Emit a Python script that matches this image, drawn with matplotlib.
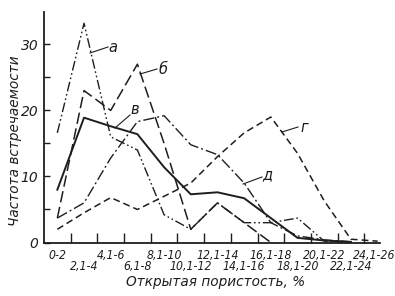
import numpy as np
import matplotlib
matplotlib.use("Agg")
import matplotlib.pyplot as plt

categories = ["0-2", "2,1-4", "4,1-6", "6,1-8", "8,1-10", "10,1-12", "12,1-14",
              "14,1-16", "16,1-18", "18,1-20", "20,1-22", "22,1-24", "24,1-26"]
nan = np.nan
series_a = [16.6, 33.2, 16.0, 14.0, 4.2, 2.0, 6.0, 3.0, 3.0, 3.7, 0.2, 0.1, nan]
series_b = [3.7, 23.0, 20.0, 27.0, 15.0, 2.0, 6.0, 3.0, 0.0, nan, nan, nan, nan]
series_v = [8.0, 18.9, 17.6, 16.4, 11.4, 7.3, 7.6, 6.7, 3.7, 0.7, 0.3, 0.1, nan]
series_g = [2.0, 4.5, 6.8, 5.0, 7.0, 9.0, 13.0, 16.6, 19.0, 13.5, 6.3, 0.5, 0.2]
series_d = [3.7, 6.0, 12.8, 18.3, 19.2, 14.8, 13.3, 9.0, 3.0, 1.0, 0.4, 0.1, nan]
series_names = ["а", "б", "в", "г", "д"]
y_ticks = [0, 10, 20, 30]

ink = "#1e1e1e"
plt.rcParams['font.family'] = ['DejaVu Sans']

fig = plt.figure(figsize=(3.95, 2.96), dpi=100)
ax = fig.add_axes([44/395, 53.5/296, (380-44)/395, (242.5-12)/296])

x = np.arange(len(categories))
ax.plot(x, series_a, color=ink, lw=1.0, linestyle=(0, (7, 2, 1.2, 2, 1.2, 2)))
ax.plot(x, series_b, color=ink, lw=1.1, linestyle=(0, (7.5, 3)))
ax.plot(x, series_v, color=ink, lw=1.4, linestyle='-')
ax.plot(x, series_g, color=ink, lw=1.1, linestyle=(0, (4.5, 2.6)))
ax.plot(x, series_d, color=ink, lw=1.0, linestyle=(0, (8, 2.2, 1.4, 2.2)))

ax.set_xlim(-0.5, 12.09)
ax.set_ylim(0, 34.9)
for s in ['top', 'right']:
    ax.spines[s].set_visible(False)
for s in ['left', 'bottom']:
    ax.spines[s].set_color(ink)
    ax.spines[s].set_linewidth(1.3)

ax.set_yticks(y_ticks)
ax.set_yticks([5, 15, 25], minor=True)
ax.set_yticklabels([str(t) for t in y_ticks], fontsize=10, style='italic', color=ink)
ax.tick_params(axis='y', which='both', direction='in', length=4, width=1.0, color=ink, pad=4)

ax.set_xticks(x[:-1] + 0.5)
ax.set_xticklabels([])
ax.tick_params(axis='x', direction='in', length=7, width=1.0, color=ink)

trans = ax.get_xaxis_transform()
for i, lab in enumerate(categories):
    yoff = -0.057 if i % 2 == 0 else -0.102
    xpos = i - 0.14 if i == len(categories) - 1 else i
    ax.text(xpos, yoff, lab, transform=trans, ha='center', va='center', fontsize=8.7,
            style='italic', color=ink, fontstretch='condensed')

fig.text(216/395, 1 - 282/296, "Открытая пористость, %", ha='center', va='center',
         fontsize=9.8, style='italic', color=ink)
fig.text(15/395, 1 - 141/296, "Частота встречаемости", ha='center', va='center',
         fontsize=9.8, style='italic', color=ink, rotation=90)

def px(xp, yp):
    return (xp/395, 1 - yp/296)

labels = [
    (series_names[0], (113, 48), (90, 53), (108, 47)),
    (series_names[1], (163, 70), (140, 74), (157, 69)),
    (series_names[2], (135, 109), (115, 128), (130, 115)),
    (series_names[3], (304, 128), (282, 132), (298, 127)),
    (series_names[4], (267, 175), (243, 184), (262, 177)),
]
for name, tpos, p0, p1 in labels:
    fig.text(*px(*tpos), name, ha='center', va='center', fontsize=10.5, style='italic', color=ink)
    fig.add_artist(plt.Line2D([p0[0]/395, p1[0]/395], [1 - p0[1]/296, 1 - p1[1]/296],
                              transform=fig.transFigure, color=ink, lw=0.8))

fig.savefig("out.png", dpi=100, facecolor='white')
